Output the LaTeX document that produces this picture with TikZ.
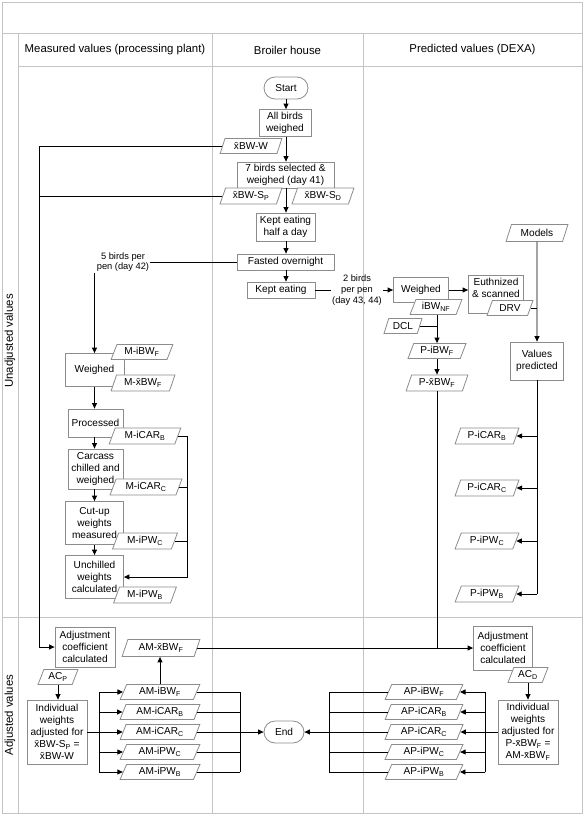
\documentclass[tikz,border=0pt]{standalone}
\usepackage{fontspec}
\setmainfont{Liberation Sans}
\usetikzlibrary{shapes.geometric,shapes.misc,arrows.meta,calc}
\definecolor{gridc}{HTML}{C4C4C4}
\definecolor{boxc}{HTML}{8C8C8C}
\newcommand\nodefnt{\fontsize{10.1}{12}\selectfont}
\newcommand\lblfnt{\fontsize{9.3}{10.8}\selectfont}
\newcommand\hdrfnt{\fontsize{11.4}{13}\selectfont}
\newcommand\xb{\=x}
\newcommand\sbs[1]{\textsubscript{#1}}
\tikzset{
  grid/.style={draw=gridc, line width=0.8pt},
  wh/.style 2 args={minimum width=#1, minimum height=#2},
  box/.style={draw=boxc, fill=white, line width=0.8pt, rectangle, align=center, inner sep=1pt, font=\nodefnt},
  para/.style={draw=boxc, fill=white, line width=0.8pt, trapezium, trapezium left angle=65, trapezium right angle=115, trapezium stretches=true, inner sep=0pt, font=\nodefnt},
  term/.style={draw=boxc, fill=white, line width=0.8pt, rounded rectangle, inner sep=1pt, font=\nodefnt},
  lbl/.style={align=center, font=\lblfnt, inner sep=1pt},
  hdr/.style={font=\hdrfnt, inner sep=1pt},
  conn/.style={line width=0.9pt, draw=black},
  arr/.style={conn, -{Triangle[length=5.5pt,width=5pt]}},
}
\begin{document}
\begin{tikzpicture}[x=1pt,y=-1pt]
\useasboundingbox (0,0) rectangle (586,817);
% ---------- grid ----------
\draw[grid] (2,2) rectangle (582,813);
\draw[grid] (2,33) -- (582,33);
\draw[grid] (18,66) -- (582,66);
\draw[grid] (18,33) -- (18,813);
\draw[grid] (212,33) -- (212,813);
\draw[grid] (363,33) -- (363,813);
\draw[grid] (2,617) -- (582,617);
\node[hdr] (h1) at (115,50) {Measured values (processing plant)};
\node[hdr] (h2) at (287.5,50) {Broiler house};
\node[hdr] (h3) at (472.5,50) {Predicted values (DEXA)};
\node[hdr, rotate=90] (v1) at (10,341) {Unadjusted values};
\node[hdr, rotate=90] (v2) at (10,715) {Adjusted values};
% ---------- bus coordinates ----------
\coordinate (busL) at (39,0);
\coordinate (busM) at (187,0);
\coordinate (busA) at (99,0);
\coordinate (busB) at (240,0);
\coordinate (busC) at (329,0);
\coordinate (busD) at (485,0);
% ---------- broiler house ----------
\node[term, wh={46}{22}] (start) at (286,88) {Start};
\node[box, wh={52}{27}] (allw) at (285,123) {All birds\\weighed};
\node[box, wh={97}{26}] (sel7) at (285.5,175) {7 birds selected \&\\weighed (day 41)};
\node[box, wh={59}{28}] (half) at (285.5,227) {Kept eating\\half a day};
\node[box, wh={97}{16}] (fasted) at (285.5,262) {Fasted overnight};
\node[box, wh={68}{16}] (kept) at (281,290) {Kept eating};
\node[para, wh={62}{15}] (xbww) at (251,146) {\xb BW-W};
\node[para, wh={62}{16}] (xbwsp) at (251,196) {\xb BW-S\sbs{P}};
\node[para, wh={62}{16}] (xbwsd) at (323,196) {\xb BW-S\sbs{D}};
\node[lbl] (l5) at (123,262) {5 birds per\\pen (day 42)};
\node[lbl] (l2) at (357,290) {2 birds\\per pen\\(day 43, 44)};
% ---------- predicted (DEXA) ----------
\node[box, wh={55}{25}] (weighD) at (421,290) {Weighed};
\node[box, wh={55}{38}] (euth) at (496,294) {Euthnized\\\& scanned\\\mbox{}};
\node[box, wh={53}{38}] (valp) at (537,361) {Values\\predicted};
\node[para, wh={62}{17}] (models) at (537,233) {Models};
\node[para, wh={52}{15}] (ibwnf) at (436,307) {iBW\sbs{NF}};
\node[para, wh={46}{15}] (drv) at (510,308) {DRV};
\node[para, wh={38}{15}] (dcl) at (403,326) {DCL};
\node[para, wh={58}{15}] (pibwf) at (437,351) {P-iBW\sbs{F}};
\node[para, wh={62}{16}] (pxbwf) at (437,383) {P-\xb BW\sbs{F}};
\node[para, wh={64}{16}] (pcarb) at (487,436) {P-iCAR\sbs{B}};
\node[para, wh={64}{16}] (pcarc) at (487,488) {P-iCAR\sbs{C}};
\node[para, wh={64}{16}] (ppwc) at (487,541) {P-iPW\sbs{C}};
\node[para, wh={64}{16}] (ppwb) at (487,594) {P-iPW\sbs{B}};
% ---------- measured (plant) ----------
\node[box, wh={59}{33}] (weighM) at (94.5,370) {Weighed};
\node[box, wh={55}{28}] (proc) at (95.5,423) {Processed};
\node[box, wh={55}{40}] (carc) at (95.5,469) {Carcass\\chilled and\\weighed};
\node[box, wh={58}{43}] (cut) at (94.5,523) {Cut-up\\weights\\measured};
\node[box, wh={58}{43}] (unch) at (94.5,577) {Unchilled\\weights\\calculated};
\node[para, wh={62}{15}] (mibwf) at (142,352) {M-iBW\sbs{F}};
\node[para, wh={64}{16}] (mxbwf) at (143,383) {M-\xb BW\sbs{F}};
\node[para, wh={72}{16}] (micarb) at (145,436) {M-iCAR\sbs{B}};
\node[para, wh={72}{16}] (micarc) at (146,487) {M-iCAR\sbs{C}};
\node[para, wh={65}{16}] (mipwc) at (145,541) {M-iPW\sbs{C}};
\node[para, wh={63}{16}] (mipwb) at (145,595) {M-iPW\sbs{B}};
% ---------- adjusted ----------
\node[box, wh={60}{40}] (adjP) at (85,647) {Adjustment\\coefficient\\calculated};
\node[para, wh={40}{15}] (acp) at (58,677) {AC\sbs{P}};
\node[box, wh={60}{64}] (indP) at (57,732) {Individual\\weights\\adjusted for\\\xb BW-S\sbs{P} =\\\xb BW-W};
\node[para, wh={78}{17}] (amxbwf) at (161,648) {AM-\xb BW\sbs{F}};
\node[para, wh={80}{15}] (amibwf) at (160,692) {AM-iBW\sbs{F}};
\node[para, wh={80}{15}] (amicarb) at (160,712) {AM-iCAR\sbs{B}};
\node[para, wh={80}{15}] (amicarc) at (160,732) {AM-iCAR\sbs{C}};
\node[para, wh={80}{15}] (amipwc) at (160,752) {AM-iPW\sbs{C}};
\node[para, wh={80}{15}] (amipwb) at (160,772) {AM-iPW\sbs{B}};
\node[term, wh={42}{22}] (end) at (284,732) {End};
\node[box, wh={59}{44}] (adjD) at (503,648) {Adjustment\\coefficient\\calculated};
\node[para, wh={40}{15}] (acd) at (528,675) {AC\sbs{D}};
\node[box, wh={60}{64}] (indD) at (528,732) {Individual\\weights\\adjusted for\\P-\xb BW\sbs{F} =\\AM-\xb BW\sbs{F}};
\node[para, wh={78}{15}] (apibwf) at (424,692) {AP-iBW\sbs{F}};
\node[para, wh={78}{15}] (apicarb) at (424,712) {AP-iCAR\sbs{B}};
\node[para, wh={78}{15}] (apicarc) at (424,732) {AP-iCAR\sbs{C}};
\node[para, wh={78}{15}] (apipwc) at (424,752) {AP-iPW\sbs{C}};
\node[para, wh={78}{15}] (apipwb) at (424,772) {AP-iPW\sbs{B}};
% ---------- connectors: broiler house ----------
\draw[arr] (start.south) -- (start.south |- allw.north);
\draw[arr] (start.south |- allw.south) -- (start.south |- sel7.north);
\draw[arr] (start.south |- sel7.south) -- (start.south |- half.north);
\draw[arr] (start.south |- half.south) -- (start.south |- fasted.north);
\draw[arr] (start.south |- fasted.south) -- (start.south |- kept.north);
\draw[arr] (xbww.west) -- (xbww.west -| busL) |- (adjP.west);
\draw[conn] (xbwsp.west) -- (xbwsp.west -| busL);
\draw[conn] (fasted.west) -- (l5.east |- fasted.west);
\draw[arr] (weighM.north |- l5.south) -- (weighM.north);
\draw[conn] (kept.east) -- (l2.west |- kept.east);
\draw[arr] (l2.east |- weighD.west) -- (weighD.west);
% ---------- connectors: predicted ----------
\draw[arr] (weighD.east) -- (euth.west |- weighD.east);
\draw[arr] (models.south) -- (valp.north);
\draw[conn] (drv.east) -- (drv.east -| models.south);
\draw[arr] (pibwf.north |- ibwnf.south) -- (pibwf.north);
\draw[conn] (dcl.east) -- (dcl.east -| pibwf.north);
\draw[arr] (pibwf.south) -- (pibwf.south |- pxbwf.north);
\draw[conn] (pxbwf.south) -- (pxbwf.south |- amxbwf.east);
\draw[conn] (valp.south) -- (valp.south |- ppwb.east);
\foreach \n in {pcarb,pcarc,ppwc,ppwb}
  \draw[arr] (valp.south |- \n.east) -- (\n.east);
% ---------- connectors: measured ----------
\draw[arr] (weighM.south) -- (weighM.south |- proc.north);
\draw[arr] (weighM.south |- proc.south) -- (weighM.south |- carc.north);
\draw[arr] (weighM.south |- carc.south) -- (weighM.south |- cut.north);
\draw[arr] (weighM.south |- cut.south) -- (weighM.south |- unch.north);
\draw[arr] (micarb.east) -- (micarb.east -| busM) |- (unch.east);
\draw[conn] (micarc.east) -- (micarc.east -| busM);
\draw[conn] (mipwc.east) -- (mipwc.east -| busM);
% ---------- connectors: adjusted ----------
\draw[arr] (acp.south) -- (acp.south |- indP.north);
\draw[conn] (indP.east) -- (indP.east -| busA);
\draw[conn] (busA |- amibwf.west) -- (busA |- amipwb.west);
\draw[conn] (busB |- amibwf.east) -- (busB |- amipwb.east);
\foreach \n in {amibwf,amicarb,amicarc,amipwc,amipwb}{
  \draw[arr] (busA |- \n.west) -- (\n.west);
  \draw[conn] (\n.east) -- (busB |- \n.east);
}
\draw[arr] (busB |- end.west) -- (end.west);
\draw[arr] (amibwf.north) -- (amibwf.north |- amxbwf.south);
\draw[arr] (amxbwf.east) -- (adjD.west |- amxbwf.east);
\draw[arr] (acd.south) -- (acd.south |- indD.north);
\draw[conn] (indD.west) -- (indD.west -| busD);
\draw[conn] (busD |- apibwf.east) -- (busD |- apipwb.east);
\draw[conn] (busC |- apibwf.west) -- (busC |- apipwb.west);
\foreach \n in {apibwf,apicarb,apicarc,apipwc,apipwb}{
  \draw[arr] (busD |- \n.east) -- (\n.east);
  \draw[conn] (\n.west) -- (busC |- \n.west);
}
\draw[arr] (busC |- end.east) -- (end.east);
\end{tikzpicture}
\end{document}
